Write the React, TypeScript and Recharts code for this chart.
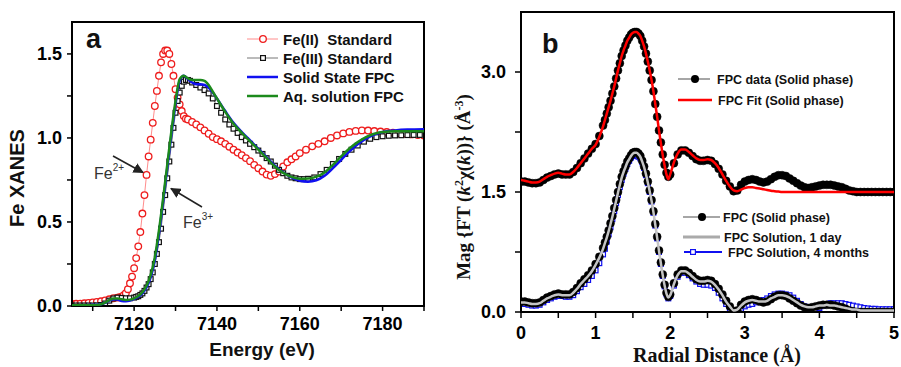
import { LineChart, Line, XAxis, YAxis, ReferenceArea } from 'recharts';

// ---- panel a: Fe K-edge XANES ----
const feIIEnergy = [
  7105, 7106, 7107, 7108, 7109, 7110, 7111, 7112, 7113, 7114, 7115, 7116,
  7116.5, 7117, 7117.5, 7118, 7118.5, 7119, 7119.5, 7120, 7120.5, 7121, 7121.5, 7122,
  7122.5, 7123, 7123.5, 7124, 7124.5, 7125, 7125.5, 7126, 7126.5, 7127, 7127.5, 7128,
  7128.5, 7129, 7129.5, 7130, 7130.5, 7131, 7131.5, 7132, 7132.5, 7133,
  7134, 7135, 7136, 7137, 7138, 7139, 7140, 7141, 7142, 7143, 7144, 7145, 7146, 7147,
  7148, 7149, 7150, 7151, 7152, 7153, 7154, 7155, 7156, 7157, 7158, 7159, 7160,
  7161.5, 7163, 7164.5, 7166, 7167.5, 7169, 7170.5, 7172, 7173.5, 7175, 7176.5, 7178,
  7179.5, 7181, 7182.5, 7184, 7185.5, 7187, 7188.5, 7190,
];
const feIIValue = [
  0.012, 0.013, 0.014, 0.016, 0.018, 0.021, 0.024, 0.028, 0.033, 0.04, 0.046, 0.05,
  0.052, 0.056, 0.064, 0.076, 0.1, 0.135, 0.175, 0.225, 0.285, 0.355, 0.44, 0.55,
  0.66, 0.78, 0.89, 0.99, 1.09, 1.19, 1.28, 1.37, 1.45, 1.5, 1.52, 1.52,
  1.5, 1.44, 1.37, 1.29, 1.24, 1.2, 1.16, 1.13, 1.115, 1.11,
  1.095, 1.08, 1.063, 1.045, 1.025, 1.005, 0.993, 0.98, 0.965, 0.948, 0.93, 0.913, 0.897, 0.88,
  0.862, 0.84, 0.82, 0.8, 0.782, 0.775, 0.785, 0.8, 0.83, 0.855, 0.873, 0.89, 0.91,
  0.93, 0.95, 0.965, 0.98, 1.0, 1.015, 1.027, 1.036, 1.042, 1.045, 1.044, 1.041,
  1.038, 1.035, 1.032, 1.028, 1.025, 1.021, 1.018, 1.015,
];

const feIIIEnergy = [
  7105, 7106, 7107, 7108, 7109, 7110, 7111, 7112, 7113, 7114, 7115, 7116, 7117, 7118, 7119, 7120,
  7120.5, 7121, 7121.5, 7122, 7122.5, 7123, 7123.5, 7124, 7124.5, 7125, 7125.5, 7126, 7126.5,
  7127, 7127.5, 7128, 7128.5, 7129, 7129.5, 7130, 7130.5, 7131, 7131.5, 7132, 7132.5, 7133, 7133.5,
  7134, 7135, 7136, 7137, 7138, 7139, 7140, 7141, 7142, 7143, 7144, 7145, 7146, 7147, 7148,
  7149, 7150, 7151, 7152, 7153, 7154, 7155, 7156, 7157, 7158, 7159, 7160, 7161, 7162,
  7163.5, 7165, 7166.5, 7168, 7169.5, 7171, 7172.5, 7174, 7175.5, 7177, 7178.5, 7180,
  7181.5, 7183, 7184.5, 7186, 7187.5, 7189,
];
const feIIIValue = [
  0.003, 0.003, 0.003, 0.003, 0.003, 0.003, 0.004, 0.006, 0.015, 0.032, 0.045, 0.05, 0.048, 0.046, 0.046, 0.05,
  0.054, 0.058, 0.066, 0.075, 0.09, 0.11, 0.13, 0.16, 0.2, 0.25, 0.31, 0.38, 0.46,
  0.56, 0.66, 0.76, 0.86, 0.96, 1.06, 1.15, 1.22, 1.27, 1.31, 1.335, 1.345, 1.345, 1.34,
  1.33, 1.315, 1.3, 1.285, 1.265, 1.235, 1.19, 1.15, 1.11, 1.08, 1.055, 1.03, 1.005, 0.985, 0.965,
  0.945, 0.925, 0.905, 0.88, 0.86, 0.835, 0.81, 0.79, 0.775, 0.765, 0.76, 0.755, 0.755, 0.757,
  0.765, 0.785, 0.81, 0.845, 0.875, 0.905, 0.93, 0.955, 0.978, 0.995, 1.005, 1.01,
  1.013, 1.015, 1.016, 1.017, 1.018, 1.018,
];

const fpcEnergy = [
  7105, 7108, 7111, 7112, 7113, 7114, 7115, 7116, 7117, 7118, 7119, 7120, 7121, 7122, 7123,
  7124, 7125, 7126, 7127, 7128, 7129, 7130, 7131, 7132, 7133, 7134, 7135, 7136, 7137, 7138,
  7139, 7140, 7142, 7144, 7146, 7148, 7150, 7152, 7154, 7156, 7158, 7160, 7162, 7164, 7166,
  7168, 7170, 7172, 7174, 7176, 7178, 7180, 7183, 7186, 7190,
];
const solidStateFpc = [
  0.005, 0.005, 0.007, 0.01, 0.018, 0.032, 0.04, 0.038, 0.03, 0.028, 0.032, 0.042, 0.055, 0.075, 0.11,
  0.17, 0.27, 0.43, 0.62, 0.82, 1.02, 1.2, 1.34, 1.37, 1.35, 1.33, 1.32, 1.32, 1.315, 1.3,
  1.27, 1.235, 1.16, 1.09, 1.035, 0.985, 0.935, 0.885, 0.835, 0.795, 0.765, 0.745, 0.74, 0.748, 0.775,
  0.82, 0.87, 0.92, 0.962, 0.995, 1.02, 1.035, 1.045, 1.05, 1.052,
];
const aqSolutionFpc = [
  0.004, 0.004, 0.006, 0.01, 0.02, 0.035, 0.045, 0.045, 0.04, 0.036, 0.038, 0.046, 0.06, 0.082, 0.12,
  0.185, 0.29, 0.45, 0.64, 0.84, 1.04, 1.22, 1.35, 1.37, 1.355, 1.345, 1.345, 1.345, 1.34, 1.315,
  1.275, 1.235, 1.155, 1.085, 1.03, 0.98, 0.93, 0.88, 0.83, 0.792, 0.768, 0.757, 0.758, 0.77, 0.795,
  0.84, 0.89, 0.937, 0.975, 1.005, 1.025, 1.035, 1.04, 1.04, 1.04,
];

const energyTicks = [7110, 7120, 7130, 7140, 7150, 7160, 7170, 7180, 7190];
const xanesTicks = [0, 0.25, 0.5, 0.75, 1, 1.25, 1.5];

// ---- panel b: Fourier transform magnitude ----
const radial = [
  0, 0.05, 0.1, 0.15, 0.2, 0.25, 0.3, 0.35, 0.4, 0.45, 0.5, 0.55, 0.6, 0.65, 0.7, 0.75, 0.8, 0.85, 0.9, 0.95, 1, 1.05, 1.1,
  1.125, 1.15, 1.175, 1.2, 1.225, 1.25, 1.275, 1.3, 1.325, 1.35, 1.375, 1.4, 1.425, 1.45, 1.475, 1.5, 1.525, 1.55,
  1.575, 1.6, 1.625, 1.65, 1.675, 1.7, 1.725, 1.75, 1.775, 1.8, 1.825, 1.85, 1.875, 1.9, 1.925, 1.95, 1.975, 2,
  2.05, 2.1, 2.15, 2.2, 2.25, 2.3, 2.35, 2.4, 2.45, 2.5, 2.55, 2.6, 2.65, 2.7, 2.75, 2.8, 2.85, 2.9, 2.95, 3,
  3.05, 3.1, 3.15, 3.2, 3.25, 3.3, 3.35, 3.4, 3.45, 3.5, 3.55, 3.6, 3.65, 3.7, 3.75, 3.8, 3.85, 3.9, 3.95, 4,
  4.05, 4.1, 4.15, 4.2, 4.25, 4.3, 4.35, 4.4, 4.45, 4.5, 4.55, 4.6, 4.65, 4.7, 4.75, 4.8, 4.85, 4.9, 4.95, 5,
];
const solidDataUpper = [
  1.63, 1.63, 1.62, 1.61, 1.61, 1.62, 1.65, 1.68, 1.7, 1.72, 1.73, 1.72, 1.72, 1.72, 1.75, 1.8, 1.86, 1.92, 1.98, 2.04, 2.1, 2.2, 2.33,
  2.4, 2.48, 2.56, 2.64, 2.73, 2.82, 2.92, 3.02, 3.11, 3.2, 3.27, 3.33, 3.39, 3.43, 3.47, 3.49, 3.5, 3.5,
  3.48, 3.45, 3.39, 3.32, 3.23, 3.13, 3.02, 2.9, 2.76, 2.6, 2.44, 2.27, 2.12, 1.97, 1.84, 1.74, 1.69, 1.72,
  1.86, 1.97, 2.02, 2.02, 1.99, 1.95, 1.91, 1.89, 1.89, 1.9, 1.89, 1.85, 1.79, 1.72, 1.64, 1.57, 1.51, 1.52, 1.59, 1.63,
  1.65, 1.66, 1.65, 1.63, 1.62, 1.63, 1.66, 1.69, 1.71, 1.71, 1.7, 1.67, 1.64, 1.61, 1.58, 1.56, 1.55, 1.56, 1.57, 1.58,
  1.59, 1.59, 1.59, 1.58, 1.57, 1.56, 1.54, 1.52, 1.51, 1.5, 1.5, 1.5, 1.5, 1.5, 1.5, 1.5, 1.5, 1.5, 1.5, 1.5,
];
const solidFitUpper = [
  1.65, 1.64, 1.63, 1.62, 1.62, 1.63, 1.66, 1.69, 1.71, 1.73, 1.74, 1.73, 1.72, 1.72, 1.75, 1.8, 1.86, 1.92, 1.98, 2.04, 2.09, 2.19, 2.32,
  2.4, 2.48, 2.56, 2.64, 2.73, 2.82, 2.92, 3.02, 3.11, 3.2, 3.27, 3.33, 3.39, 3.43, 3.47, 3.49, 3.5, 3.5,
  3.48, 3.45, 3.39, 3.32, 3.23, 3.13, 3.02, 2.9, 2.76, 2.6, 2.44, 2.27, 2.11, 1.96, 1.83, 1.72, 1.66, 1.72,
  1.87, 1.98, 2.03, 2.03, 2.0, 1.96, 1.92, 1.9, 1.9, 1.91, 1.9, 1.86, 1.8, 1.72, 1.64, 1.57, 1.52, 1.51, 1.53, 1.55,
  1.56, 1.56, 1.55, 1.545, 1.535, 1.525, 1.515, 1.51, 1.505, 1.5, 1.5, 1.5, 1.5, 1.5, 1.5, 1.5, 1.5, 1.5, 1.5, 1.5,
  1.5, 1.5, 1.5, 1.5, 1.5, 1.5, 1.5, 1.5, 1.5, 1.5, 1.5, 1.5, 1.5, 1.5, 1.5, 1.5, 1.5, 1.5, 1.5, 1.5,
];
const solidLower = [
  0.13, 0.13, 0.12, 0.11, 0.11, 0.12, 0.15, 0.18, 0.2, 0.22, 0.23, 0.22, 0.22, 0.22, 0.25, 0.3, 0.36, 0.41, 0.46, 0.52, 0.6, 0.69, 0.8,
  0.87, 0.94, 1.02, 1.11, 1.2, 1.3, 1.4, 1.5, 1.6, 1.69, 1.76, 1.82, 1.88, 1.92, 1.96, 1.99, 2.0, 2.0,
  1.98, 1.95, 1.89, 1.82, 1.73, 1.63, 1.52, 1.4, 1.26, 1.1, 0.94, 0.77, 0.62, 0.47, 0.34, 0.24, 0.19, 0.22,
  0.36, 0.47, 0.52, 0.52, 0.49, 0.45, 0.41, 0.39, 0.39, 0.4, 0.39, 0.35, 0.29, 0.22, 0.14, 0.07, 0.01, 0.02, 0.09, 0.13,
  0.15, 0.16, 0.15, 0.13, 0.12, 0.13, 0.16, 0.19, 0.21, 0.21, 0.2, 0.17, 0.14, 0.11, 0.08, 0.06, 0.05, 0.06, 0.07, 0.08,
  0.09, 0.09, 0.09, 0.08, 0.07, 0.06, 0.04, 0.02, 0.01, 0.0, 0.0, 0.0, 0.0, 0.0, 0.0, 0.0, 0.0, 0.0, 0.0, 0.0,
];
const solution1Day = [
  0.12, 0.12, 0.11, 0.1, 0.1, 0.11, 0.14, 0.17, 0.19, 0.21, 0.22, 0.21, 0.21, 0.21, 0.24, 0.29, 0.35, 0.4, 0.45, 0.51, 0.59, 0.68, 0.79,
  0.86, 0.93, 1.01, 1.1, 1.19, 1.29, 1.39, 1.49, 1.59, 1.68, 1.75, 1.81, 1.87, 1.91, 1.95, 1.98, 1.99, 1.99,
  1.97, 1.94, 1.88, 1.81, 1.72, 1.62, 1.51, 1.39, 1.25, 1.09, 0.93, 0.76, 0.61, 0.46, 0.33, 0.23, 0.18, 0.21,
  0.35, 0.46, 0.51, 0.51, 0.48, 0.44, 0.4, 0.38, 0.38, 0.39, 0.38, 0.34, 0.28, 0.21, 0.13, 0.07, 0.02, 0.03, 0.08, 0.12,
  0.14, 0.15, 0.14, 0.13, 0.13, 0.14, 0.17, 0.19, 0.21, 0.21, 0.2, 0.18, 0.15, 0.12, 0.09, 0.07, 0.06, 0.06, 0.07, 0.08,
  0.08, 0.09, 0.08, 0.08, 0.07, 0.06, 0.05, 0.04, 0.03, 0.03, 0.02, 0.02, 0.02, 0.02, 0.02, 0.02, 0.02, 0.02, 0.02, 0.02,
];
const solution4Months = [
  0.1, 0.1, 0.09, 0.08, 0.08, 0.09, 0.12, 0.15, 0.17, 0.19, 0.2, 0.2, 0.19, 0.19, 0.21, 0.26, 0.31, 0.35, 0.4, 0.45, 0.52, 0.61, 0.72,
  0.79, 0.88, 0.97, 1.06, 1.16, 1.26, 1.36, 1.46, 1.56, 1.65, 1.73, 1.79, 1.85, 1.89, 1.93, 1.95, 1.96, 1.96,
  1.94, 1.92, 1.87, 1.8, 1.71, 1.61, 1.5, 1.38, 1.24, 1.08, 0.92, 0.75, 0.6, 0.45, 0.32, 0.22, 0.17, 0.2,
  0.33, 0.44, 0.49, 0.49, 0.46, 0.42, 0.38, 0.35, 0.34, 0.34, 0.33, 0.3, 0.24, 0.17, 0.1, 0.04, 0.0, 0.01, 0.04, 0.07,
  0.09, 0.1, 0.12, 0.14, 0.15, 0.17, 0.2, 0.22, 0.23, 0.23, 0.22, 0.21, 0.18, 0.14, 0.1, 0.07, 0.04, 0.01, 0.02, 0.05,
  0.08, 0.1, 0.11, 0.11, 0.11, 0.11, 0.1, 0.09, 0.08, 0.07, 0.06, 0.05, 0.045, 0.04, 0.04, 0.035, 0.035, 0.035, 0.035, 0.035,
];

const radialTicks = [0, 0.5, 1, 1.5, 2, 2.5, 3, 3.5, 4, 4.5, 5];
const magTicks = [0, 0.75, 1.5, 2.25, 3];

const SANS = "'Liberation Sans', Arial, sans-serif";
const SERIF = "'Liberation Serif', 'Times New Roman', serif";
const RED = '#ee1c1c';
const BLUE = '#1010f0';
const GREEN = '#1c8a1c';

const zip = (xs: number[], ys: number[]) => xs.map((e, i) => ({ e, v: ys[i] }));

const SquareDot = (props: any) => {
  const { cx, cy, index, stroke } = props;
  if (cx == null || cy == null) return null;
  return (
    <rect key={`sq-${index}`} x={cx - 2.4} y={cy - 2.4} width={4.8} height={4.8}
      fill="#fff" stroke={stroke} strokeWidth={1.2} />
  );
};

const tickStyle = { fill: '#000', fontSize: 18, fontWeight: 'bold', fontFamily: SANS };
const axisLine = { stroke: '#000', strokeWidth: 2 };
const tickLine = { stroke: '#000', strokeWidth: 1.5 };

// plot areas (page pixels)
const A_MARGIN = { top: 22, right: 26, bottom: 61, left: 72 };
const B_MARGIN = { top: 12, right: 7, bottom: 55, left: 71 };

const Layer = ({ left, children }: { left: number; children: any }) => (
  <div style={{ position: 'absolute', left, top: 0, pointerEvents: 'none' }}>{children}</div>
);

// base of panel a: axes + the two standards
const XanesBase = () => (
  <LineChart width={450} height={367}
    margin={{ top: A_MARGIN.top, right: A_MARGIN.right, bottom: A_MARGIN.bottom - 30, left: A_MARGIN.left - 50 }}>
    <XAxis type="number" dataKey="e" domain={[7105, 7190]} allowDataOverflow ticks={energyTicks}
      tickFormatter={(v: number) => (v % 20 === 0 ? String(v) : '')} height={30}
      tick={tickStyle} tickSize={5} tickMargin={6} axisLine={axisLine} tickLine={tickLine} />
    <YAxis type="number" domain={[0, 1.69]} allowDataOverflow ticks={xanesTicks}
      tickFormatter={(v: number) => (v % 0.5 === 0 ? v.toFixed(1) : '')} width={50}
      tick={tickStyle} tickSize={5} tickMargin={5} axisLine={axisLine} tickLine={tickLine} />
    <Line data={zip(feIIEnergy, feIIValue)} dataKey="v" stroke="#ff8c8c" strokeWidth={1}
      dot={{ r: 3.3, stroke: RED, strokeWidth: 1.3, fill: '#fff' }} isAnimationActive={false} />
    <Line data={zip(feIIIEnergy, feIIIValue)} dataKey="v" stroke="#777" strokeWidth={1}
      dot={<SquareDot stroke="#111" />} isAnimationActive={false} />
  </LineChart>
);

// top of panel a: the two FPC spectra + frame
const XanesTop = () => (
  <LineChart width={450} height={367} margin={A_MARGIN}>
    <XAxis hide type="number" dataKey="e" domain={[7105, 7190]} allowDataOverflow />
    <YAxis hide type="number" domain={[0, 1.69]} allowDataOverflow />
    <Line data={zip(fpcEnergy, solidStateFpc)} dataKey="v" stroke={BLUE} strokeWidth={2.5}
      dot={false} type="monotone" isAnimationActive={false} />
    <Line data={zip(fpcEnergy, aqSolutionFpc)} dataKey="v" stroke={GREEN} strokeWidth={2.5}
      dot={false} type="monotone" isAnimationActive={false} />
    <ReferenceArea x1={7105} x2={7190} y1={0} y2={1.69} fill="none" stroke="#000" strokeWidth={2} />
  </LineChart>
);

const ftRows = radial.map((r, i) => ({
  r,
  upper: solidDataUpper[i],
  fit: solidFitUpper[i],
  lower: solidLower[i],
  day1: solution1Day[i],
  month4: solution4Months[i],
}));

// base of panel b: axes + 4-month solution (drawn under the solid-phase dots)
const FtBase = () => (
  <LineChart width={451} height={367} data={ftRows}
    margin={{ top: B_MARGIN.top, right: B_MARGIN.right, bottom: B_MARGIN.bottom - 30, left: B_MARGIN.left - 50 }}>
    <XAxis type="number" dataKey="r" domain={[0, 5]} allowDataOverflow ticks={radialTicks}
      tickFormatter={(v: number) => (Number.isInteger(v) ? String(v) : '')} height={30}
      tick={tickStyle} tickSize={6} tickMargin={8} axisLine={axisLine} tickLine={tickLine} />
    <YAxis type="number" domain={[0, 3.75]} allowDataOverflow ticks={magTicks}
      tickFormatter={(v: number) => (v % 1.5 === 0 ? v.toFixed(1) : '')} width={50}
      tick={tickStyle} tickSize={6} tickMargin={9} axisLine={axisLine} tickLine={tickLine} />
    <Line dataKey="month4" stroke={BLUE} strokeWidth={1.5} dot={<SquareDot stroke={BLUE} />}
      isAnimationActive={false} />
  </LineChart>
);

// middle of panel b: solid phase data as black dots
const FtDots = () => (
  <LineChart width={451} height={367} data={ftRows} margin={B_MARGIN}>
    <XAxis hide type="number" dataKey="r" domain={[0, 5]} allowDataOverflow />
    <YAxis hide type="number" domain={[0, 3.75]} allowDataOverflow />
    <Line dataKey="upper" stroke="#888" strokeWidth={1} dot={{ r: 4, fill: '#000', stroke: '#000', strokeWidth: 0.5 }}
      isAnimationActive={false} />
    <Line dataKey="lower" stroke="#888" strokeWidth={1} dot={{ r: 4, fill: '#000', stroke: '#000', strokeWidth: 0.5 }}
      isAnimationActive={false} />
  </LineChart>
);

// top of panel b: fit and 1-day solution lines + frame
const FtTop = () => (
  <LineChart width={451} height={367} data={ftRows} margin={B_MARGIN}>
    <XAxis hide type="number" dataKey="r" domain={[0, 5]} allowDataOverflow />
    <YAxis hide type="number" domain={[0, 3.75]} allowDataOverflow />
    <Line dataKey="fit" stroke="#ff0000" strokeWidth={2.5} dot={false} type="monotone" isAnimationActive={false} />
    <Line dataKey="day1" stroke="#c4c4c4" strokeWidth={2.5} dot={false} type="monotone" isAnimationActive={false} />
    <ReferenceArea x1={0} x2={5} y1={0} y2={3.75} fill="none" stroke="#000" strokeWidth={2} />
  </LineChart>
);

const Overlay = () => (
  <svg width={901} height={367} style={{ position: 'absolute', left: 0, top: 0, pointerEvents: 'none' }}>
    <defs>
      <marker id="arrowHead" viewBox="0 0 10 10" refX="9" refY="5" markerWidth="7" markerHeight="7" orient="auto">
        <path d="M0,0 L10,5 L0,10 z" fill="#222" />
      </marker>
    </defs>

    {/* panel letters */}
    <text x={86} y={48} fontFamily={SANS} fontWeight="bold" fontSize={27} fill="#111">a</text>
    <text x={542} y={53} fontFamily={SANS} fontWeight="bold" fontSize={27} fill="#111">b</text>

    {/* axis titles */}
    <text x={262} y={356} textAnchor="middle" fontFamily={SANS} fontWeight="bold" fontSize={19} fill="#111">
      Energy (eV)
    </text>
    <text x={24} y={178} textAnchor="middle" transform="rotate(-90 24 178)" fontFamily={SANS}
      fontWeight="bold" fontSize={20} fill="#111">
      Fe XANES
    </text>
    <text x={717} y={362} textAnchor="middle" fontFamily={SERIF} fontWeight="bold" fontSize={20} fill="#111">
      Radial Distance (Å)
    </text>
    <text x={470} y={187} textAnchor="middle" transform="rotate(-90 470 187)" fontFamily={SERIF}
      fontWeight="bold" fontSize={19} fill="#111">
      Mag {'{'}FT (<tspan fontStyle="italic">k</tspan>
      <tspan dy={-7} fontSize={12}>2</tspan>
      <tspan dy={7}>χ(</tspan>
      <tspan fontStyle="italic">k</tspan>)){'}'} (Å
      <tspan dy={-7} fontSize={12}>-3</tspan>
      <tspan dy={7}>)</tspan>
    </text>

    {/* annotations panel a */}
    <text x={94} y={179} fontFamily={SANS} fontSize={16} fill="#333">
      Fe<tspan dy={-8} fontSize={10}>2+</tspan>
    </text>
    <line x1={113} y1={156} x2={143} y2={172.5} stroke="#222" strokeWidth={1.5} markerEnd="url(#arrowHead)" />
    <text x={183} y={228} fontFamily={SANS} fontSize={16} fill="#333">
      Fe<tspan dy={-8} fontSize={10}>3+</tspan>
    </text>
    <line x1={202} y1={207} x2={171} y2={188.5} stroke="#222" strokeWidth={1.5} markerEnd="url(#arrowHead)" />

    {/* legend panel a */}
    <g fontFamily={SANS} fontWeight="bold" fontSize={15} fill="#111">
      <line x1={247} y1={39} x2={278} y2={39} stroke="#ff8c8c" strokeWidth={1} />
      <circle cx={263} cy={39} r={3.3} fill="#fff" stroke={RED} strokeWidth={1.3} />
      <text x={283} y={44.5}>Fe(II)&#160; Standard</text>
      <line x1={247} y1={58} x2={278} y2={58} stroke="#777" strokeWidth={1} />
      <rect x={260.6} y={55.6} width={4.8} height={4.8} fill="#fff" stroke="#111" strokeWidth={1.2} />
      <text x={283} y={63.5}>Fe(III) Standard</text>
      <line x1={247} y1={77} x2={278} y2={77} stroke={BLUE} strokeWidth={2.5} />
      <text x={283} y={82.5}>Solid State FPC</text>
      <line x1={247} y1={96} x2={278} y2={96} stroke={GREEN} strokeWidth={2.5} />
      <text x={283} y={101.5}>Aq. solution FPC</text>
    </g>

    {/* legend panel b */}
    <g fontFamily={SANS} fontWeight="bold" fontSize={12.5} fill="#111">
      <line x1={678} y1={79} x2={710} y2={79} stroke="#888" strokeWidth={1.5} />
      <circle cx={695} cy={79} r={4} fill="#000" />
      <text x={717} y={83.5}>FPC data (Solid phase)</text>
      <line x1={678} y1={100} x2={712} y2={100} stroke="#ff0000" strokeWidth={2.5} />
      <text x={718} y={104.5}>FPC Fit (Solid phase)</text>
      <line x1={683} y1={217} x2={720} y2={217} stroke="#888" strokeWidth={1.5} />
      <circle cx={702} cy={217} r={4} fill="#000" />
      <text x={723} y={221.5}>FPC (Solid phase)</text>
      <line x1={683} y1={237} x2={720} y2={237} stroke="#aaa" strokeWidth={3} />
      <text x={724} y={241.5}>FPC Solution, 1 day</text>
      <line x1={684} y1={252} x2={722} y2={252} stroke={BLUE} strokeWidth={2} />
      <rect x={690.6} y={249.6} width={4.8} height={4.8} fill="#fff" stroke={BLUE} strokeWidth={1.2} />
      <text x={728} y={256.5}>FPC Solution, 4 months</text>
    </g>
  </svg>
);

export default function App() {
  return (
    <div style={{ position: 'absolute', left: 0, top: 0, width: 901, height: 367, background: '#fff' }}>
      <Layer left={0}><XanesBase /></Layer>
      <Layer left={0}><XanesTop /></Layer>
      <Layer left={450}><FtBase /></Layer>
      <Layer left={450}><FtDots /></Layer>
      <Layer left={450}><FtTop /></Layer>
      <Overlay />
    </div>
  );
}
